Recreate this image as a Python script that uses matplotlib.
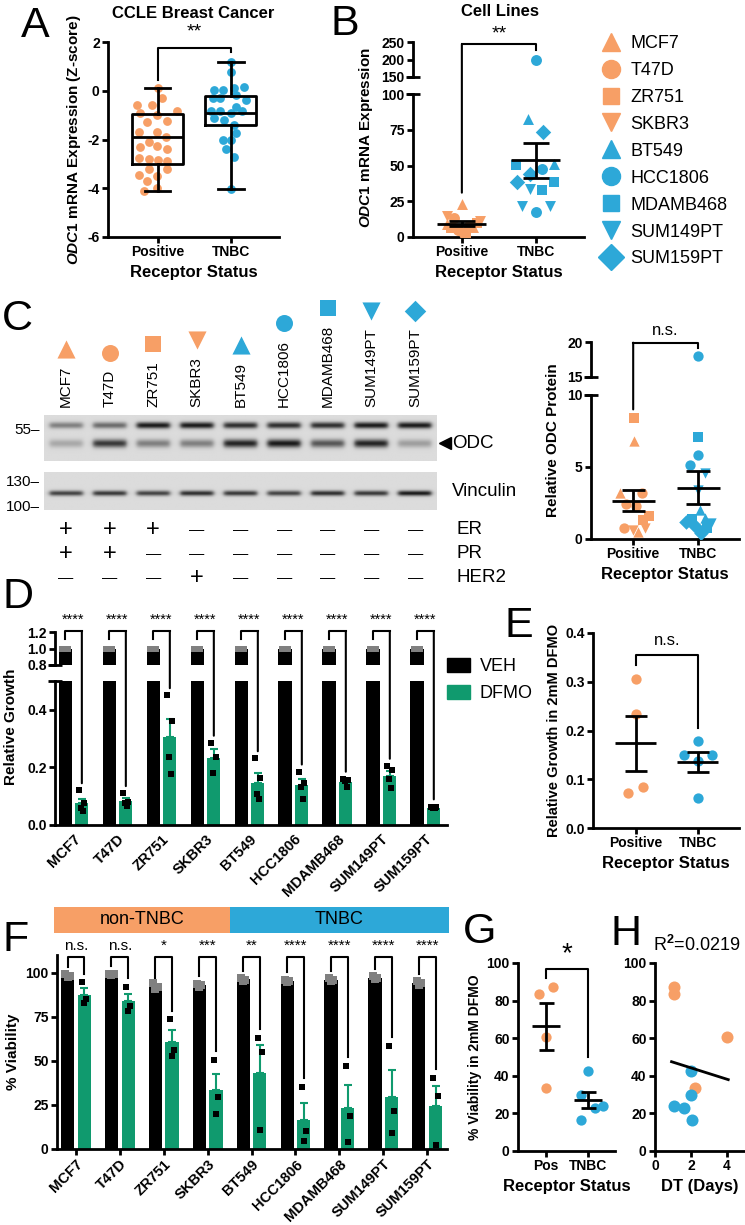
import numpy as np
import matplotlib
matplotlib.use('Agg')
import matplotlib.pyplot as plt
from matplotlib.patches import ConnectionPatch, Patch
from matplotlib.lines import Line2D

plt.rcParams['font.family'] = ['Liberation Sans', 'DejaVu Sans']
plt.rcParams['font.weight'] = 'bold'
plt.rcParams['axes.labelweight'] = 'bold'
plt.rcParams['axes.unicode_minus'] = False
plt.rcParams['mathtext.fontset'] = 'custom'
plt.rcParams['mathtext.rm'] = 'Liberation Sans'
plt.rcParams['mathtext.it'] = 'Liberation Sans:italic:bold'
plt.rcParams['mathtext.bf'] = 'Liberation Sans:bold'

ORANGE = '#F79F66'
BLUE = '#2DA8D8'
GREEN = '#109A6E'
GRAY = '#808080'

# ---------------- data ----------------
cell_lines = ['MCF7', 'T47D', 'ZR751', 'SKBR3', 'BT549', 'HCC1806', 'MDAMB468', 'SUM149PT', 'SUM159PT']
line_marker = ['^', 'o', 's', 'v', '^', 'o', 's', 'v', 'D']
line_color = [ORANGE] * 4 + [BLUE] * 5
status_labels = ['Positive', 'TNBC']

# A: CCLE z-scores
a_pos = [0.1, -0.3, -0.6, -0.6, -0.85, -0.9, -1.0, -1.25, -1.3, -1.7, -1.7, -1.9, -2.1, -2.3,
         -2.25, -2.4, -2.75, -2.8, -2.85, -2.9, -3.2, -3.2, -3.45, -3.5, -3.7, -4.0, -4.1]
a_pos_jit = [0, 0.06, -0.28, -0.08, 0.27, -0.24, -0.01, 0.13, -0.15, -0.26, -0.01, 0.11, -0.12, -0.24,
             -0.01, 0.13, -0.26, -0.12, 0.01, 0.13, -0.12, 0.13, -0.26, -0.01, -0.15, -0.01, -0.19]
a_tnbc = [1.2, 0.78, 0.05, 0.03, 0.1, 0.14, -0.17, -0.3, -0.3, -0.38, -0.65, -0.85, -0.85, -0.9,
          -0.85, -1.1, -1.2, -1.4, -1.75, -2.0, -2.0, -2.4, -2.7, -4.05]
a_tnbc_jit = [0, 0, -0.23, -0.11, 0.05, 0.18, 0.07, -0.25, -0.15, 0.21, 0.07, -0.27, -0.15, 0,
              0.16, -0.23, -0.09, 0.05, 0.07, -0.11, 0, -0.07, 0.05, 0]
a_med = [-1.9, -0.9]
a_q1 = [-3.0, -1.4]
a_q3 = [-0.95, -0.2]
a_lo = [-4.1, -4.05]
a_hi = [0.1, 1.2]

# B: ODC1 mRNA in cell lines
b_line = ['MCF7'] * 3 + ['T47D'] * 3 + ['ZR751'] * 3 + ['SKBR3'] * 3 + ['BT549'] * 2 + \
         ['HCC1806'] * 3 + ['MDAMB468'] * 3 + ['SUM149PT'] * 3 + ['SUM159PT'] * 3
b_val = [23, 9, 7, 13, 8, 5, 10, 6, 3, 15, 11, 1, 82.5, 51.3, 198, 47.5, 17.7,
         50.6, 38.2, 32.6, 33.6, 21.4, 21.4, 73.4, 44.3, 38.5]
b_jit = [0, -0.2, 0.15, -0.1, 0.1, -0.05, 0.2, -0.15, 0.05, -0.2, 0.25, 0, -0.1, 0.24,
         0, 0.08, 0, -0.27, 0.25, 0.08, -0.08, -0.19, 0.19, 0.1, -0.08, -0.25]

# C: western blot band intensities (0..1)
blot_nonspecific = [0.45, 0.55, 0.95, 0.95, 0.85, 0.85, 0.85, 0.95, 0.95]
blot_odc = [0.25, 0.8, 0.45, 0.45, 0.9, 0.95, 0.65, 0.9, 0.3]
blot_vinculin = [0.75, 0.8, 0.75, 0.85, 0.8, 0.75, 0.85, 0.8, 0.95]
er_status = ['+', '+', '+', '-', '-', '-', '-', '-', '-']
pr_status = ['+', '+', '-', '-', '-', '-', '-', '-', '-']
her2_status = ['-', '-', '-', '+', '-', '-', '-', '-', '-']

# C right: relative ODC protein
c_line = ['MCF7'] * 3 + ['T47D'] * 4 + ['ZR751'] * 3 + ['SKBR3'] * 2 + \
         ['HCC1806'] * 3 + ['MDAMB468'] * 3 + ['SUM149PT'] * 4 + ['BT549'] * 2 + ['SUM159PT'] * 3
c_val = [6.8, 3.2, 0.5, 3.2, 2.4, 2.3, 0.75, 8.4, 1.6, 1.3, 0.65, 0.75,
         18.0, 5.8, 5.15, 7.07, 1.4, 0.75, 4.6, 3.4, 1.1, 0.3, 2.0, 1.45, 1.2, 0.9, 0.4]
c_jit = [0.02, -0.2, 0.08, 0.13, -0.11, 0.05, -0.14, 0.02, 0.25, 0.15, 0, 0.18,
         0, 0, -0.13, 0, -0.1, 0.13, 0.1, 0, 0.2, 0.03, 0.03, 0.1, -0.18, -0.05, 0.05]

# D: relative growth, 2 mM DFMO replicates
d_veh = [[1.0, 1.0, 1.0, 1.0]] * 9
d_dfmo = [[0.12, 0.075, 0.06, 0.05], [0.11, 0.08, 0.075, 0.065], [0.45, 0.36, 0.235, 0.176],
          [0.285, 0.235, 0.18], [0.231, 0.162, 0.106, 0.09], [0.185, 0.147, 0.133, 0.09],
          [0.16, 0.156, 0.153, 0.133], [0.205, 0.19, 0.158, 0.127], [0.064, 0.061, 0.058, 0.06]]

# E: growth in DFMO by status
e_pos = [0.305, 0.233, 0.085, 0.072]
e_pos_jit = [0, 0, 0.11, -0.12]
e_tnbc = [0.178, 0.15, 0.15, 0.137, 0.061]
e_tnbc_jit = [0, -0.23, 0.22, 0, 0]

# F: viability
subtype = ['non-TNBC'] * 4 + ['TNBC'] * 5
f_veh = [[99, 98, 97.5], [99.5, 99, 98.5], [94, 92, 90.5], [93.5, 93, 92], [97, 96, 95.5],
         [96, 95, 94.5], [97, 96, 95], [98, 97, 96.5], [95, 94, 93]]
f_dfmo = [[94.5, 85, 83], [92, 81, 78], [73.5, 56, 53], [50.5, 29.4, 20], [63, 55, 11],
          [35, 10, 4.3], [47.3, 18.8, 4], [58.4, 21.7, 9], [40.1, 30.1, 2.4]]
f_sig = ['n.s.', 'n.s.', '*', '***', '**', '****', '****', '****', '****']

# G / H
g_pos = [87.5, 83.5, 60.5, 33.5]
g_pos_jit = [0.17, -0.17, 0, 0]
g_tnbc = [42.6, 29.7, 23.1, 24.0, 16.4]
g_tnbc_jit = [0, -0.17, 0.17, 0.36, -0.17]
h_dt_pos = [1.07, 1.07, 4.02, 2.22]
h_dt_tnbc = [1.98, 1.98, 1.61, 1.07, 2.07]

# ---------------- figure ----------------
W, H = 745, 1225
fig = plt.figure(figsize=(W / 100, H / 100), dpi=100)


def add_ax(x0, y0, x1, y1):
    return fig.add_axes([x0 / W, 1 - y1 / H, (x1 - x0) / W, (y1 - y0) / H])


def style(ax, bottom=True):
    ax.patch.set_alpha(0)
    for s in ['top', 'right']:
        ax.spines[s].set_visible(False)
    for s in ['left', 'bottom']:
        ax.spines[s].set_linewidth(2.0)
    ax.tick_params(width=2.0, length=4.5, labelsize=10, pad=1.5)
    if not bottom:
        ax.spines['bottom'].set_visible(False)
        ax.tick_params(axis='x', bottom=False, labelbottom=False)


def break_mark(ax, y):
    ax.plot([0], [y], marker='_', ms=10, mew=2, color='k', transform=ax.transAxes, clip_on=False)


def mean_sem(ax, x, vals, hw=0.33, cw=0.18):
    v = np.asarray(vals, float)
    m = v.mean()
    s = v.std(ddof=1) / np.sqrt(len(v))
    ax.hlines(m, x - hw, x + hw, color='k', lw=2, zorder=4)
    ax.vlines(x, m - s, m + s, color='k', lw=2, zorder=4)
    ax.hlines([m - s, m + s], x - cw, x + cw, color='k', lw=2, zorder=4)


def letter(x, y, s):
    fig.text(x / W, 1 - y / H, s, fontsize=31, fontweight='normal', ha='left', va='baseline')


def status_axis(ax, xlab=True):
    ax.set_xticks([0, 1])
    ax.set_xticklabels(status_labels)
    if xlab:
        ax.set_xlabel('Receptor Status', fontsize=12, labelpad=4)


# ---- A ----
axA = add_ax(108, 42, 279, 237)
style(axA)
axA.scatter(np.array(a_pos_jit), a_pos, s=40, color=ORANGE, lw=0, zorder=2)
axA.scatter(1 + np.array(a_tnbc_jit), a_tnbc, s=40, color=BLUE, lw=0, zorder=2)
stats = [dict(med=a_med[i], q1=a_q1[i], q3=a_q3[i], whislo=a_lo[i], whishi=a_hi[i], fliers=[])
         for i in range(2)]
lp = dict(lw=2, color='k')
axA.bxp(stats, positions=[0, 1], widths=0.7, capwidths=0.35, showfliers=False,
        boxprops=lp, whiskerprops=lp, capprops=lp, medianprops=lp, manage_ticks=False, zorder=3)
axA.set_xlim(-0.68, 1.66)
axA.set_ylim(-6, 2)
axA.set_yticks([-6, -4, -2, 0, 2])
status_axis(axA)
axA.set_ylabel(r'$\mathit{ODC1}$ mRNA Expression (Z-score)', fontsize=11, labelpad=3)
axA.plot([0, 0, 1, 1], [0.45, 1.75, 1.75, 1.6], color='k', lw=1.5, clip_on=False)
axA.text(0.5, 2.05, '**', ha='center', va='bottom', fontsize=14, fontweight='normal')
fig.text(193 / W, 1 - 14 / H, 'CCLE Breast Cancer', ha='center', va='center', fontsize=12)
letter(21, 37, 'A')

# ---- B ----
axBt = add_ax(413, 42, 584, 77)
axBb = add_ax(413, 94, 584, 237)
style(axBt, bottom=False)
style(axBb)
for ax in (axBt, axBb):
    for name, v, j in zip(b_line, b_val, b_jit):
        k = cell_lines.index(name)
        x0 = 0 if line_color[k] == ORANGE else 1
        ax.scatter(x0 + j, v, marker=line_marker[k], s=62 if line_marker[k] != 's' else 48,
                   color=line_color[k], lw=0, zorder=3)
    pos_vals = [v for n, v in zip(b_line, b_val) if line_color[cell_lines.index(n)] == ORANGE]
    tn_vals = [v for n, v in zip(b_line, b_val) if line_color[cell_lines.index(n)] == BLUE]
    mean_sem(ax, 0, pos_vals)
    mean_sem(ax, 1, tn_vals)
    ax.set_xlim(-0.66, 1.65)
axBt.set_ylim(150, 250)
axBt.set_yticks([150, 200, 250])
axBb.set_ylim(0, 100)
axBb.set_yticks([0, 25, 50, 75, 100])
status_axis(axBb)
break_mark(axBt, 0)
break_mark(axBb, 1)
fig.text(366 / W, 1 - 138 / H, r'$\mathit{ODC1}$ mRNA Expression', rotation=90,
         ha='center', va='center', fontsize=11)
fig.add_artist(ConnectionPatch(xyA=(0, 31), coordsA=axBb.transData, xyB=(0, 243),
                               coordsB=axBt.transData, color='k', lw=1.5))
axBt.plot([0, 1, 1], [243, 243, 228], color='k', lw=1.5, clip_on=False)
axBt.text(0.5, 250, '**', ha='center', va='bottom', fontsize=14, fontweight='normal')
fig.text(500 / W, 1 - 12 / H, 'Cell Lines', ha='center', va='center', fontsize=12)
letter(331, 35, 'B')
handles = [Line2D([], [], ls='', marker=m, color=c, ms=13 if m != 's' else 12)
           for m, c in zip(line_marker, line_color)]
fig.legend(handles, cell_lines, loc='upper left', bbox_to_anchor=(600 / W, 1 - 35 / H),
           frameon=False, prop=dict(size=13, weight='normal'), labelspacing=0.55,
           handletextpad=0.5, handlelength=1.2, borderpad=0, borderaxespad=0)

# ---- C: blot ----
letter(2, 330, 'C')


def blot(ax, bands):
    xs = np.linspace(-0.5, 8.5, 450)
    ys = np.linspace(0, 1, 60)
    X, Y = np.meshgrid(xs, ys)
    img = np.full(X.shape, 0.86)
    for yc, w, intens in bands:
        for i, v in enumerate(intens):
            hprof = 1 / (1 + np.exp((np.abs(X - i) - 0.38) / 0.03))
            vprof = np.exp(-((Y - yc) / w) ** 2)
            img -= 0.8 * v * hprof * vprof
    ax.imshow(np.clip(img, 0, 1), cmap='gray', vmin=0, vmax=1, extent=(-0.5, 8.5, 1, 0),
              aspect='auto', interpolation='bilinear')
    ax.set_axis_off()


axW1 = add_ax(44, 415, 437, 461)
blot(axW1, [(0.22, 0.07, blot_nonspecific), (0.62, 0.09, blot_odc)])
axW2 = add_ax(44, 472, 437, 510)
blot(axW2, [(0.56, 0.07, blot_vinculin)])
for y, s in [(430, '55–'), (482, '130–'), (507, '100–')]:
    fig.text(40 / W, 1 - y / H, s, ha='right', va='center', fontsize=11, fontweight='normal')
fig.add_artist(Line2D([445 / W], [1 - 443 / H], marker='<', ms=8, color='k', transform=fig.transFigure))
fig.text(452 / W, 1 - 443 / H, 'ODC', ha='left', va='center', fontsize=13.5, fontweight='normal')
fig.text(452 / W, 1 - 492 / H, 'Vinculin', ha='left', va='center', fontsize=13.5, fontweight='normal')

axN = add_ax(44, 280, 437, 407)
axN.set_xlim(-0.5, 8.5)
axN.set_ylim(0, 1)
axN.set_axis_off()
name_txt = [axN.text(i, 0, n, rotation=90, ha='center', va='bottom', fontsize=11, fontweight='normal')
            for i, n in enumerate(cell_lines)]
fig.canvas.draw()
rend = fig.canvas.get_renderer()
for i, t in enumerate(name_txt):
    bb = t.get_window_extent(rend)
    _, yd = axN.transData.inverted().transform((0, bb.y1 + 17))
    m = line_marker[i]
    axN.scatter(i, yd, marker=m, s=170 if m in '^v' else (120 if m != 'o' else 150),
                color=line_color[i], lw=0, clip_on=False)

axS = add_ax(44, 518, 437, 590)
axS.set_xlim(-0.5, 8.5)
axS.set_ylim(3, 0)
axS.set_axis_off()
for r, (lab, row) in enumerate(zip(['ER', 'PR', 'HER2'], [er_status, pr_status, her2_status])):
    for i, s in enumerate(row):
        if s == '+':
            axS.text(i, r + 0.5, '+', ha='center', va='center', fontsize=17, fontweight='normal')
        else:
            axS.text(i, r + 0.5, '—', ha='center', va='center', fontsize=11, fontweight='normal')
    axS.text(8.95, r + 0.5, lab, ha='left', va='center', fontsize=13.5, fontweight='normal', clip_on=False)

# ---- C right ----
axCt = add_ax(591, 342, 739, 377)
axCb = add_ax(591, 395, 739, 539)
style(axCt, bottom=False)
style(axCb)
for ax in (axCt, axCb):
    pos_vals, tn_vals = [], []
    for name, v, j in zip(c_line, c_val, c_jit):
        k = cell_lines.index(name)
        x0 = 0 if line_color[k] == ORANGE else 1
        (pos_vals if x0 == 0 else tn_vals).append(v)
        ax.scatter(x0 + j, v, marker=line_marker[k], s=55 if line_marker[k] != 's' else 42,
                   color=line_color[k], lw=0, zorder=3)
    mean_sem(ax, 0, pos_vals)
    mean_sem(ax, 1, tn_vals)
    ax.set_xlim(-0.65, 1.63)
axCt.set_ylim(15, 20)
axCt.set_yticks([15, 20])
axCb.set_ylim(0, 10)
axCb.set_yticks([0, 5, 10])
status_axis(axCb)
break_mark(axCt, 0)
break_mark(axCb, 1)
fig.text(553 / W, 1 - 440 / H, 'Relative ODC Protein', rotation=90, ha='center', va='center', fontsize=11)
fig.add_artist(ConnectionPatch(xyA=(0, 9), coordsA=axCb.transData, xyB=(0, 19.9),
                               coordsB=axCt.transData, color='k', lw=1.5))
axCt.plot([0, 1, 1], [19.9, 19.9, 19.2], color='k', lw=1.5, clip_on=False)
axCt.text(0.5, 20.6, 'n.s.', ha='center', va='bottom', fontsize=12, fontweight='normal')

# ---- D ----
letter(2, 608, 'D')
axDt = add_ax(55, 632, 447, 665)
axDb = add_ax(55, 681, 447, 825)
style(axDt, bottom=False)
style(axDb)
xg = np.arange(len(cell_lines))
off, bw = 0.19, 0.3
veh_m = [np.mean(v) for v in d_veh]
dfmo_m = np.array([np.mean(v) for v in d_dfmo])
dfmo_s = np.array([np.std(v, ddof=1) / np.sqrt(len(v)) for v in d_dfmo])
jit4 = [-0.06, 0.06, -0.02, 0.02]
for ax in (axDt, axDb):
    ax.bar(xg - off, veh_m, bw, color='k', zorder=2)
    ax.bar(xg + off, dfmo_m, bw, color=GREEN, zorder=2)
    ax.errorbar(xg + off, dfmo_m, yerr=[np.zeros(len(xg)), dfmo_s], fmt='none', ecolor=GREEN,
                elinewidth=1.5, capsize=3, capthick=1.5, zorder=1)
    for i in range(len(xg)):
        ax.scatter(xg[i] - off + np.array(jit4[:len(d_veh[i])]), d_veh[i], marker='s', s=24,
                   color=GRAY, lw=0, zorder=3)
        ax.scatter(xg[i] + off + np.array(jit4[:len(d_dfmo[i])]), d_dfmo[i], marker='s', s=20,
                   color='k', lw=0, zorder=3)
    ax.set_xlim(-0.42, 8.49)
axDt.set_ylim(0.8, 1.2)
axDt.set_yticks([0.8, 1.0, 1.2])
axDt.set_yticklabels(['0.8', '1.0', '1.2'])
axDb.set_ylim(0, 0.5)
axDb.set_yticks([0.0, 0.2, 0.4])
axDb.set_yticklabels(['0.0', '0.2', '0.4'])
axDb.set_xticks(xg)
axDb.set_xticklabels(cell_lines, rotation=45, ha='right', rotation_mode='anchor', fontsize=10.5)
axDb.tick_params(axis='x', length=0, pad=5)
break_mark(axDt, 0)
break_mark(axDb, 1)
fig.text(11 / W, 1 - 727 / H, 'Relative Growth', rotation=90, ha='center', va='center', fontsize=11)
for i in range(len(xg)):
    axDt.plot([xg[i] - off, xg[i] - off, xg[i] + off], [1.12, 1.21, 1.21], color='k', lw=1.5, clip_on=False)
    fig.add_artist(ConnectionPatch(xyA=(xg[i] + off, 1.21), coordsA=axDt.transData,
                                   xyB=(xg[i] + off, max(d_dfmo[i]) + 0.025), coordsB=axDb.transData,
                                   color='k', lw=1.5))
    axDt.text(xg[i], 1.265, '****', ha='center', va='bottom', fontsize=10.5, fontweight='normal')
fig.legend([Patch(color='k'), Patch(color=GREEN)], ['VEH', 'DFMO'], loc='upper left',
           bbox_to_anchor=(447 / W, 1 - 658 / H), frameon=False, prop=dict(size=13, weight='normal'),
           handlelength=1.3, handleheight=0.8, handletextpad=0.5, labelspacing=0.55,
           borderpad=0, borderaxespad=0)

# ---- E ----
letter(504, 637, 'E')
axE = add_ax(593, 633, 739, 828)
style(axE)
axE.scatter(np.array(e_pos_jit), e_pos, s=55, color=ORANGE, lw=0, zorder=3)
axE.scatter(1 + np.array(e_tnbc_jit), e_tnbc, s=55, color=BLUE, lw=0, zorder=3)
mean_sem(axE, 0, e_pos)
mean_sem(axE, 1, e_tnbc)
axE.set_xlim(-0.69, 1.66)
axE.set_ylim(0, 0.4)
axE.set_yticks([0, 0.1, 0.2, 0.3, 0.4])
axE.set_yticklabels(['0.0', '0.1', '0.2', '0.3', '0.4'])
status_axis(axE)
axE.set_ylabel('Relative Growth in 2mM DFMO', fontsize=10.5, labelpad=3)
axE.plot([0, 0, 1, 1], [0.334, 0.355, 0.355, 0.205], color='k', lw=1.5, clip_on=False)
axE.text(0.5, 0.37, 'n.s.', ha='center', va='bottom', fontsize=12, fontweight='normal')

# ---- F ----
letter(2, 951, 'F')
axBan = add_ax(54, 907, 449, 933)
axBan.set_xlim(-0.5, 8.5)
axBan.set_ylim(0, 1)
axBan.set_axis_off()
for name, col in [('non-TNBC', ORANGE), ('TNBC', BLUE)]:
    idx = [i for i, s in enumerate(subtype) if s == name]
    axBan.axvspan(min(idx) - 0.5, max(idx) + 0.5, color=col, lw=0)
    axBan.text((min(idx) + max(idx)) / 2, 0.5, name, ha='center', va='center', fontsize=13,
               fontweight='normal')

axF = add_ax(57, 955, 447, 1149)
style(axF)
fv_m = np.array([np.mean(v) for v in f_veh])
fd_m = np.array([np.mean(v) for v in f_dfmo])
fd_s = np.array([np.std(v, ddof=1) / np.sqrt(len(v)) for v in f_dfmo])
axF.bar(xg - off, fv_m, bw, color='k', zorder=2)
axF.bar(xg + off, fd_m, bw, color=GREEN, zorder=2)
axF.errorbar(xg + off, fd_m, yerr=[np.zeros(len(xg)), fd_s], fmt='none', ecolor=GREEN,
             elinewidth=1.5, capsize=3, capthick=1.5, zorder=1)
jit3 = [-0.05, 0.05, 0.0]
for i in range(len(xg)):
    axF.scatter(xg[i] - off + np.array(jit3), f_veh[i], marker='s', s=26, color=GRAY, lw=0, zorder=3)
    axF.scatter(xg[i] + off + np.array(jit3), f_dfmo[i], marker='s', s=20, color='k', lw=0, zorder=3)
    axF.plot([xg[i] - off, xg[i] - off, xg[i] + off, xg[i] + off],
             [fv_m[i] + 5, 109, 109, max(f_dfmo[i]) + 5], color='k', lw=1.5, clip_on=False)
    axF.text(xg[i], 111, f_sig[i], ha='center', va='bottom', fontsize=11, fontweight='normal')
axF.set_xlim(-0.43, 8.45)
axF.set_ylim(0, 110)
axF.set_yticks([0, 25, 50, 75, 100])
axF.set_xticks(xg)
axF.set_xticklabels(cell_lines, rotation=45, ha='right', rotation_mode='anchor', fontsize=10.5)
axF.set_ylabel('% Viability', fontsize=11, labelpad=4)

# ---- G ----
letter(463, 943, 'G')
axG = add_ax(518, 963, 615, 1151)
style(axG)
axG.scatter(np.array(g_pos_jit), g_pos, s=55, color=ORANGE, lw=0, zorder=3)
axG.scatter(1 + np.array(g_tnbc_jit), g_tnbc, s=55, color=BLUE, lw=0, zorder=3)
mean_sem(axG, 0, g_pos)
mean_sem(axG, 1, g_tnbc)
axG.set_xlim(-0.67, 1.64)
axG.set_ylim(0, 100)
axG.set_yticks([0, 20, 40, 60, 80, 100])
axG.set_xticks([0, 1])
axG.set_xticklabels(['Pos', 'TNBC'])
axG.set_xlabel('Receptor Status', fontsize=12, labelpad=4)
axG.set_ylabel('% Viability in 2mM DFMO', fontsize=10, labelpad=3)
axG.plot([0, 0, 1, 1], [92, 96.8, 96.8, 50], color='k', lw=1.5, clip_on=False)
axG.text(0.5, 98, '*', ha='center', va='bottom', fontsize=20, fontweight='normal')

# ---- H ----
letter(610, 945, 'H')
axH = add_ax(655, 963, 745, 1151)
style(axH)
axH.scatter(h_dt_pos, g_pos, s=75, color=ORANGE, lw=0, zorder=3)
axH.scatter(h_dt_tnbc, g_tnbc, s=75, color=BLUE, lw=0, zorder=3)
hx = np.array(h_dt_pos + h_dt_tnbc)
hy = np.array(g_pos + g_tnbc)
slope, icpt = np.polyfit(hx, hy, 1)
xl = np.array([hx.min() - 0.15, hx.max() + 0.05])
axH.plot(xl, slope * xl + icpt, color='k', lw=2, zorder=4)
axH.set_xlim(0, 5)
axH.set_ylim(0, 100)
axH.set_xticks([0, 2, 4])
axH.set_yticks([0, 20, 40, 60, 80, 100])
axH.set_xlabel('DT (Days)', fontsize=12, labelpad=4)
fig.text(653 / W, 1 - 945 / H, r'R$^2$=0.0219', ha='left', va='center', fontsize=13, fontweight='normal')

fig.savefig('out.png', dpi=100)
